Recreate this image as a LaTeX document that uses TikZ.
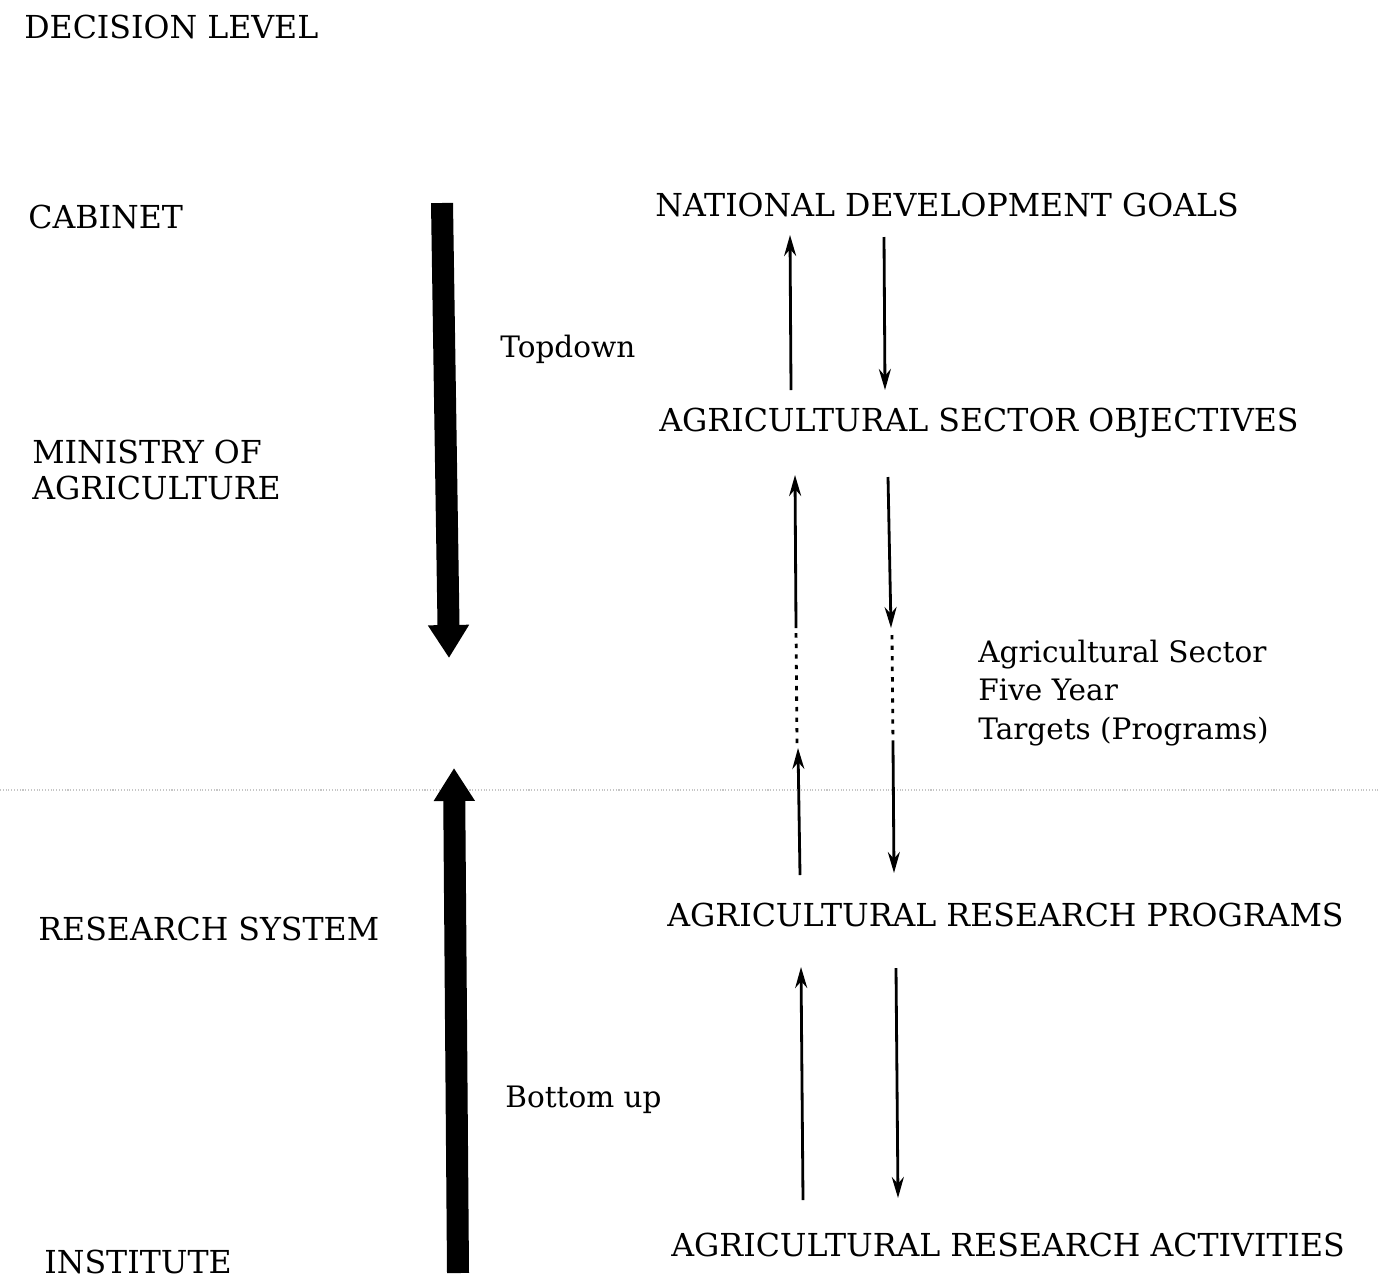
\documentclass[tikz,border=0pt]{standalone}
\usepackage{fontspec}
\setmainfont{DejaVu Serif}
\usetikzlibrary{positioning,arrows.meta}

\begin{document}
\begin{tikzpicture}[x=0.02cm,y=-0.02cm,
    lbl/.style={anchor=west, inner sep=0pt, align=left, font=\fontsize{18}{21}\selectfont},
    side/.style={anchor=west, inner sep=0pt, align=left, font=\fontsize{16.8}{22}\selectfont},
    bigarrow/.style={line width=0.44cm, -{Triangle[width=0.78cm,length=0.66cm]}},
    thinarrow/.style={line width=1.6pt, -{Stealth[width=0.24cm,length=0.42cm]}},
    dotline/.style={line width=1.6pt, dash pattern=on 2.5pt off 3.5pt}]
    \useasboundingbox (0,0) rectangle (1378,1281);

    % faint fold line of the copy
    \draw[gray!45, line width=0.6pt, densely dotted] (0,790) -- (1378,790);

    % decision levels
    \node[lbl] (dlevel) at (24,27) {DECISION LEVEL};
    \node[lbl] (cabinet) at (28,217) {CABINET};
    \node[lbl] (ministry) at (32,470) {MINISTRY OF\\AGRICULTURE};
    \node[lbl] (ressys) at (38,929) {RESEARCH SYSTEM};
    \node[lbl] (institute) at (44,1262) {INSTITUTE};

    \node[side] (topdown) at (500,349) {Topdown};
    \node[side] (bottomup) at (505,1100) {Bottom up};

    % planning chain
    \node[lbl] (goals) at (655,205) {NATIONAL DEVELOPMENT GOALS};
    \node[lbl] (objectives) at (659,423) {AGRICULTURAL SECTOR OBJECTIVES};
    \node[side] (targets) at (978,693) {Agricultural Sector\\Five Year\\Targets (Programs)};
    \node[lbl] (programs) at (667,915) {AGRICULTURAL RESEARCH PROGRAMS};
    \node[lbl] (activities) at (671,1245) {AGRICULTURAL RESEARCH ACTIVITIES};

    % thick arrows
    \coordinate (tdtop) at (442,203);
    \coordinate (tdtip) at (449,658);
    \coordinate (bubot) at (458,1273);
    \coordinate (butip) at (454,768);
    \draw[bigarrow] (tdtop) -- (tdtip);
    \draw[bigarrow] (bubot) -- (butip);

    % goals <-> objectives
    \coordinate (gu1) at (791,390);
    \coordinate (gu2) at (790,235);
    \coordinate (gd1) at (884,237);
    \coordinate (gd2) at (885,390);
    \draw[thinarrow] (gu1) -- (gu2);
    \draw[thinarrow] (gd1) -- (gd2);

    % objectives <-> targets <-> programs
    \coordinate (ou1) at (796,628);
    \coordinate (ou2) at (795,475);
    \coordinate (ou3) at (797,743);
    \coordinate (ou4) at (798,748);
    \coordinate (ou5) at (800,875);
    \draw[thinarrow] (ou1) -- (ou2);
    \draw[dotline] (ou3) -- (ou1);
    \draw[thinarrow] (ou5) -- (ou4);
    \coordinate (od1) at (888,477);
    \coordinate (od2) at (891,628);
    \coordinate (od3) at (892,635);
    \coordinate (od4) at (893,745);
    \coordinate (od5) at (894,873);
    \draw[thinarrow] (od1) -- (od2);
    \draw[dotline] (od3) -- (od4);
    \draw[thinarrow] (od4) -- (od5);

    % programs <-> activities
    \coordinate (pu1) at (803,1200);
    \coordinate (pu2) at (801,967);
    \coordinate (pd1) at (896,968);
    \coordinate (pd2) at (898,1198);
    \draw[thinarrow] (pu1) -- (pu2);
    \draw[thinarrow] (pd1) -- (pd2);
\end{tikzpicture}
\end{document}
